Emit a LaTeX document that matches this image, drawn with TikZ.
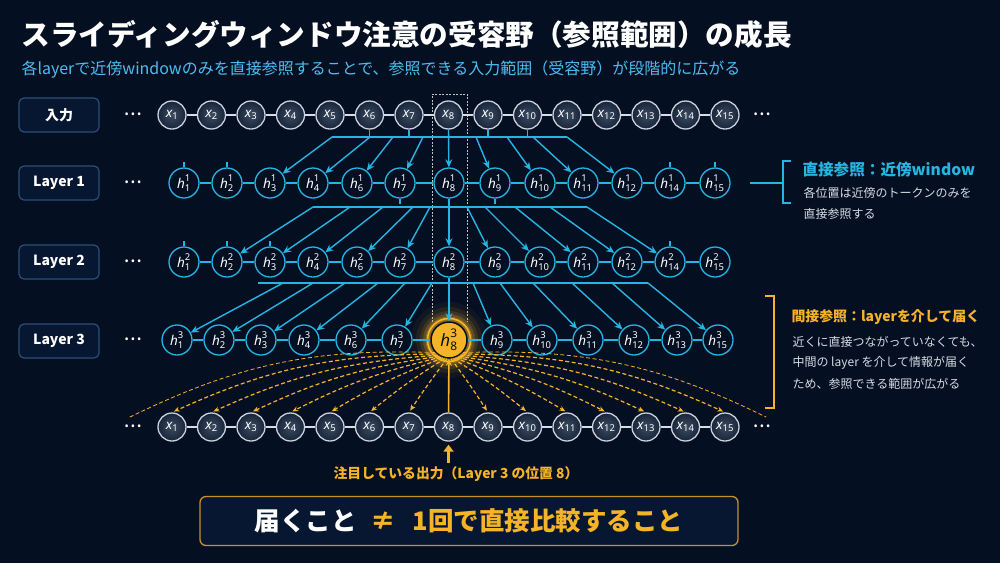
\documentclass[tikz,border=0pt]{standalone}
\usepackage{fontspec}
\usepackage{amsmath}
\setmainfont{Noto Sans CJK JP}
\newfontfamily\latfont{Noto Sans}
\usetikzlibrary{arrows.meta}
\definecolor{bg}{HTML}{050F22}
\definecolor{wcyan}{HTML}{26B5E2}
\definecolor{wgold}{HTML}{F5B327}
\definecolor{keyline}{HTML}{C98F2A}
\definecolor{subblue}{HTML}{4DBDF0}
\definecolor{boxline}{HTML}{2A4F78}
\definecolor{boxfill}{HTML}{071731}
\definecolor{txtgrey}{HTML}{D5DCE4}
\definecolor{xring}{HTML}{C9D2DC}
\definecolor{xin}{HTML}{3C4C60}
\definecolor{xout}{HTML}{18243A}
\newcommand\xv[1]{$\textit{x}_{\text{#1}}$}
\newcommand\hv[2]{$\textit{h}^{\text{#1}}_{\text{#2}}$}
\begin{document}
\begin{tikzpicture}[x=1pt,y=-1pt,
    xnode/.style={circle,minimum size=28pt,inner sep=0pt,draw=xring,line
        width=1.3pt,inner color=xin,outer color=xout,text=white,
        font=\latfont\fontsize{13.5}{13.5}\selectfont},
    hnode/.style={circle,minimum size=30pt,inner sep=0pt,draw=wcyan,line
        width=1.3pt,fill=bg,text=white,font=\latfont\fontsize{13.5}{13.5}\selectfont},
    goldnode/.style={circle,minimum size=36pt,inner sep=0pt,fill=wgold,
        draw=bg,line width=1.5pt,text=bg,
        font=\latfont\bfseries\fontsize{17}{17}\selectfont},
    rowlabel/.style={draw=boxline,line width=1.2pt,rounded corners=5pt,
        minimum width=80pt,minimum height=34pt,fill=boxfill,text=white,
        font=\bfseries\fontsize{14}{14}\selectfont},
    rowdots/.style={text=white,font=\fontsize{11}{11}\selectfont},
    link/.style={wcyan,line width=1.3pt},
    xlink/.style={xring!75,line width=1.3pt},
    bus/.style={wcyan,line width=1.4pt},
    tick/.style={wcyan,line width=1.1pt},
    arr/.style={wcyan,line width=1.4pt,-{Stealth[length=8pt,width=7pt]}},
    fan/.style={wgold,line width=1.2pt,dash pattern=on 4pt off 2.5pt,
        shorten >=2pt,-{Stealth[length=6pt,width=5pt]}},
    note/.style={anchor=west,text=txtgrey,font=\fontsize{12}{12}\selectfont}]

  \fill[bg] (0,0) rectangle (1000,563);
  \useasboundingbox (0,0) rectangle (1000,563);

  % the texts
  \node[anchor=west,text=white,font=\bfseries\fontsize{28.6}{28.6}\selectfont]
  (title) at (18,35) {スライディングウィンドウ注意の受容野（参照範囲）の成長};
  \node[anchor=west,text=subblue,font=\fontsize{16}{16}\selectfont]
  (subtitle) at (18,70)
  {各layerで近傍windowのみを直接参照することで、参照できる入力範囲（受容野）が段階的に広がる};

  \node[rowlabel] (lin) at (59,115) {入力};
  \node[rowlabel] (l1) at (59,183) {Layer 1};
  \node[rowlabel] (l2) at (59,262) {Layer 2};
  \node[rowlabel] (l3) at (59,341) {Layer 3};
  \foreach \n/\y in {0/115,1/183,2/262,3/340,4/427}
    \node[rowdots] (ld\n) at (133,\y) {• • •};
  \node[rowdots] (rd0) at (762,115) {• • •};
  \node[rowdots] (rd4) at (762,427) {• • •};

  % column of position 8
  \draw[white!70,opacity=.75,line width=.8pt,dash pattern=on 2pt off 1.5pt]
  (432,322) -- (432,94) -- (467,94) -- (467,322);

  % glow
  \coordinate (focusc) at (449,340);
  \foreach \r/\o in {38/.05,33/.08,29/.13,26/.2,23.5/.3}
    \fill[wgold,opacity=\o] (focusc) circle (\r);

  % rows
  \foreach \i in {1,...,15} {
    \node[xnode] (x\i) at ({172+39.5*(\i-1)},115) {\xv{\i}};
    \node[xnode] (b\i) at ({172+39.5*(\i-1)},427) {\xv{\i}};
  }
  \foreach \i [count=\j from 2] in {1,...,14} {
    \draw[xlink] (x\i) -- (x\j);
    \draw[xlink] (b\i) -- (b\j);
  }

  \foreach \i/\px in {1/184,2/227,3/270,4/313,6/357,7/400,8/449,9/495,
      10/540,11/583,12/627,14/670,15/715} {
    \node[hnode] (h1-\i) at (\px,183) {\hv{1}{\i}};
    \node[hnode] (h2-\i) at (\px,262) {\hv{2}{\i}};
  }
  \foreach \i/\px in {1/177,2/219,3/261,4/304,6/351,7/397,9/497,10/542,
      11/588,12/634,13/677,15/718}
    \node[hnode] (h3-\i) at (\px,340) {\hv{3}{\i}};
  \node[goldnode] (h3-8) at (focusc) {\hv{3}{8}};
  \draw[wgold,line width=1.6pt] (h3-8.center) circle (21.5);

  \foreach \a/\b in {1/2,2/3,3/4,4/6,6/7,7/8,8/9,9/10,10/11,11/12,12/14,14/15} {
    \draw[link] (h1-\a) -- (h1-\b);
    \draw[link] (h2-\a) -- (h2-\b);
  }
  \foreach \a/\b in {1/2,2/3,3/4,4/6,6/7,7/8,8/9,9/10,10/11,11/12,12/13,13/15}
    \draw[link] (h3-\a) -- (h3-\b);

  % input -> layer 1
  \coordinate (bus1l) at (332,137);
  \coordinate (bus1r) at (567,137);
  \draw[bus] (bus1l) -- (bus1r);
  \foreach \i in {6,7,9,10}
    \draw[bus] (x\i.south) -- (x\i.south |- bus1l);
  \foreach \i/\sx in {3/332,4/370,6/393,7/423,9/476,10/507,11/533,12/567} {
    \coordinate (s1-\i) at (\sx,137);
    \draw[arr] (s1-\i) -- (h1-\i);
  }
  \draw[arr] (x8.south) -- (h1-8);

  % layer 1 -> layer 2
  \coordinate (bus2l) at (313,207);
  \coordinate (bus2r) at (587,207);
  \draw[bus] (bus2l) -- (bus2r);
  \foreach \i in {7,9}
    \draw[tick] (h1-\i.south) -- ++(0,5);
  \foreach \i/\sx in {2/313,3/350,4/383,6/413,7/430,9/467,10/485,11/515,
      12/550,14/587} {
    \coordinate (s2-\i) at (\sx,207);
    \draw[arr] (s2-\i) -- (h2-\i);
  }
  \draw[arr] (h1-8) -- (h2-8);

  % layer 2 -> layer 3
  \coordinate (bus3l) at (258,283);
  \coordinate (bus3r) at (648,283);
  \draw[bus] (bus3l) -- (bus3r);
  \foreach \i/\sx in {1/283,2/313,3/345,4/378,6/405,7/432,9/473,10/500,
      11/533,12/572,13/612,15/648} {
    \coordinate (s3-\i) at (\sx,283);
    \draw[arr] (s3-\i) -- (h3-\i);
  }
  \draw[arr] (h2-8) -- (h3-8);

  \foreach \i in {1,2,14,15}
    \draw[tick] (h1-\i.north) -- ++(0,-5);
  \foreach \i in {1,2,3,14}
    \draw[tick] (h2-\i.north) -- ++(0,-5);

  % receptive field of h^3_8
  \foreach \i in {1,...,7} {
    \pgfmathtruncatemacro\ang{270-(8-\i)*6}
    \pgfmathsetmacro\bb{1.7*(8-\i)}
    \draw[fan] (h3-8.\ang) to[bend right=\bb] (b\i.north);
  }
  \foreach \i in {9,...,15} {
    \pgfmathtruncatemacro\ang{270+(\i-8)*6}
    \pgfmathsetmacro\bb{1.7*(\i-8)}
    \draw[fan] (h3-8.\ang) to[bend left=\bb] (b\i.north);
  }
  \coordinate (lend) at (128,418);
  \coordinate (rend) at (768,418);
  \draw[fan,-,line width=.8pt] (h3-8.222) to[bend right=14] (lend);
  \draw[fan,-,line width=.8pt] (h3-8.318) to[bend left=14] (rend);
  \draw[wgold,line width=1.6pt,-{Stealth[length=7pt,width=6pt]}] (b8) -- (h3-8);

  % focus label
  \node[text=wgold,font=\bfseries\fontsize{13.8}{13.8}\selectfont] (focus)
  at (456,474) {注目している出力（Layer 3 の位置 8）};
  \draw[wgold,line width=2.6pt,shorten >=3pt,-{Triangle[length=7pt,width=10pt]}]
  (focus.north -| b8) -- (b8.south);

  % side notes
  \coordinate (cbr) at (783,183);
  \draw[wcyan,line width=1.5pt] (750,183) -- (cbr);
  \draw[wcyan,line width=1.5pt] (791,161) -- (783,161) -- (783,203) -- (791,203);
  \node[anchor=west,text=wcyan,font=\bfseries\fontsize{15.6}{15.6}\selectfont]
  (dhead) at (799,170) {直接参照：近傍window};
  \node[note] (d1) at (800,193) {各位置は近傍のトークンのみを};
  \node[note] (d2) at (800,214) {直接参照する};

  \draw[wgold,line width=1.5pt] (765,296) -- (774,296) -- (774,408) -- (765,408);
  \node[anchor=west,text=wgold,font=\bfseries\fontsize{13.9}{13.9}\selectfont]
  (ihead) at (788,317) {間接参照：layerを介して届く};
  \node[note] (i1) at (789,342) {近くに直接つながっていなくても、};
  \node[note] (i2) at (789,363) {中間の layer を介して情報が届く};
  \node[note] (i3) at (789,384) {ため、参照できる範囲が広がる};

  % key message
  \node[draw=keyline,line width=1.3pt,rounded corners=6pt,fill=boxfill,
    minimum width=538pt,minimum height=49pt,
    font=\bfseries\fontsize{25.5}{25.5}\selectfont] (key) at (469,521)
  {\textcolor{white}{届くこと}\hspace{14pt}\textcolor{wgold}{≠\hspace{16pt}1回で直接比較すること}};
\end{tikzpicture}
\end{document}
